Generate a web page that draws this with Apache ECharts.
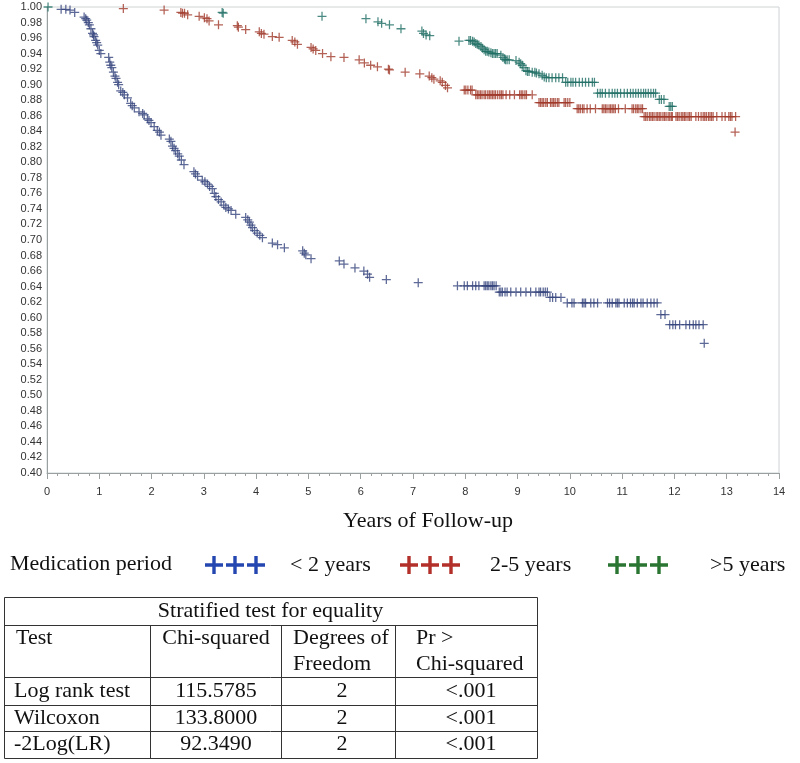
<!DOCTYPE html>
<html><head><meta charset="utf-8">
<script src="https://cdn.jsdelivr.net/npm/echarts@6/dist/echarts.min.js"></script>
<style>html,body{margin:0;padding:0;background:#fff}#c{width:800px;height:763px}</style>
</head><body><div id="c"></div>
<script>
// ---- data (years of follow-up, survival probability) ----
const seriesNames = ['< 2 years', '2-5 years', '>5 years'];
const legendTitle = 'Medication period';
const xAxisTitle = 'Years of Follow-up';

const lt2Years = [
[0.27,0.997],[0.36,0.997],[0.44,0.996],[0.53,0.993],
[0.71,0.987],[0.74,0.985],[0.76,0.983],[0.79,0.980],[0.81,0.977],[0.84,0.972],[0.87,0.966],[0.89,0.964],[0.90,0.962],[0.93,0.957],[0.95,0.954],[0.97,0.951],[1.00,0.944],[1.03,0.940],
[1.18,0.935],[1.20,0.929],[1.22,0.925],[1.24,0.922],[1.27,0.916],[1.30,0.911],[1.32,0.908],[1.35,0.903],[1.37,0.900],[1.41,0.892],[1.45,0.890],[1.48,0.887],[1.54,0.883],[1.60,0.876],[1.63,0.873],[1.67,0.870],[1.76,0.865],[1.83,0.863],[1.86,0.861],[1.92,0.856],[1.95,0.854],[1.99,0.851],[2.05,0.846],[2.11,0.841],[2.15,0.839],[2.18,0.835],
[2.34,0.830],[2.37,0.827],[2.40,0.821],[2.43,0.818],[2.46,0.815],[2.50,0.811],[2.53,0.808],[2.57,0.803],[2.62,0.797],
[2.81,0.788],[2.84,0.785],[2.88,0.782],[2.97,0.777],[3.02,0.775],[3.07,0.772],[3.11,0.769],[3.16,0.766],[3.20,0.760],[3.23,0.756],[3.28,0.752],[3.33,0.749],[3.38,0.745],[3.42,0.742],[3.47,0.740],[3.52,0.738],[3.61,0.733],[3.80,0.729],[3.84,0.726],[3.87,0.723],[3.90,0.719],[3.93,0.716],[3.97,0.712],[4.02,0.709],[4.07,0.706],[4.12,0.703],
[4.31,0.696],[4.41,0.694],[4.54,0.690],[4.89,0.686],[4.92,0.683],[4.95,0.681],[5.05,0.676],[5.59,0.673],[5.68,0.669],[5.89,0.664],[6.06,0.660],[6.13,0.656],[6.17,0.652],[6.49,0.649],[7.10,0.645],
[7.85,0.641],[7.98,0.641],[8.04,0.641],[8.14,0.641],[8.20,0.641],[8.26,0.641],[8.36,0.641],[8.39,0.641],[8.42,0.641],[8.45,0.641],[8.49,0.641],[8.52,0.641],[8.55,0.641],[8.59,0.641],
[8.65,0.633],[8.68,0.633],[8.71,0.633],[8.76,0.633],[8.80,0.633],[8.87,0.633],[8.97,0.633],[9.06,0.633],[9.16,0.633],[9.25,0.633],[9.35,0.633],[9.41,0.633],[9.44,0.633],[9.49,0.633],[9.53,0.633],[9.57,0.633],
[9.62,0.626],[9.67,0.626],[9.73,0.626],[9.83,0.626],
[9.95,0.619],[10.04,0.619],[10.08,0.619],[10.24,0.619],[10.27,0.619],[10.30,0.619],[10.40,0.619],[10.46,0.619],[10.53,0.619],[10.72,0.619],[10.76,0.619],[10.81,0.619],[10.88,0.619],[10.91,0.619],[10.94,0.619],[11.04,0.619],[11.10,0.619],[11.16,0.619],[11.20,0.619],[11.23,0.619],[11.29,0.619],[11.36,0.619],[11.40,0.619],[11.48,0.619],[11.55,0.619],[11.61,0.619],[11.67,0.619],
[11.74,0.604],[11.82,0.604],
[11.91,0.591],[11.97,0.591],[12.02,0.591],[12.10,0.591],[12.22,0.591],[12.29,0.591],[12.36,0.591],[12.41,0.591],[12.47,0.591],[12.55,0.591],
[12.57,0.567]
];

const twoToFiveYears = [
[1.46,0.998],[2.24,0.996],[2.56,0.993],[2.59,0.992],[2.63,0.992],[2.69,0.990],[2.91,0.988],[3.01,0.986],[3.06,0.985],[3.10,0.982],[3.28,0.977],[3.64,0.976],[3.66,0.974],[3.80,0.971],[4.06,0.968],[4.10,0.966],[4.15,0.965],[4.31,0.962],[4.44,0.961],[4.69,0.957],[4.74,0.955],[4.79,0.952],[5.05,0.948],[5.09,0.946],[5.14,0.944],[5.27,0.940],[5.43,0.936],[5.68,0.935],[5.97,0.932],[6.07,0.928],[6.19,0.925],[6.32,0.923],[6.53,0.920],[6.55,0.919],[6.85,0.916],[7.13,0.914],[7.31,0.911],[7.36,0.909],[7.40,0.907],[7.52,0.905],[7.56,0.903],[7.62,0.899],[7.66,0.896],
[7.98,0.893],[8.01,0.893],[8.05,0.893],[8.10,0.893],[8.13,0.893],
[8.20,0.887],[8.23,0.887],[8.26,0.887],[8.29,0.887],[8.32,0.887],[8.36,0.887],[8.39,0.887],[8.43,0.887],[8.46,0.887],[8.49,0.887],[8.52,0.887],[8.55,0.887],[8.58,0.887],[8.62,0.887],[8.66,0.887],[8.69,0.887],[8.72,0.887],[8.78,0.887],[8.85,0.887],[8.94,0.887],[9.04,0.887],[9.07,0.887],[9.10,0.887],[9.14,0.887],[9.17,0.887],[9.28,0.887],
[9.41,0.877],[9.44,0.877],[9.47,0.877],[9.50,0.877],[9.54,0.877],[9.57,0.877],[9.63,0.877],[9.66,0.877],[9.69,0.877],[9.72,0.877],[9.76,0.877],[9.79,0.877],[9.89,0.877],[9.92,0.877],[9.96,0.877],[10.00,0.877],
[10.14,0.869],[10.17,0.869],[10.20,0.869],[10.24,0.869],[10.27,0.869],[10.33,0.869],[10.39,0.869],[10.49,0.869],[10.62,0.869],[10.65,0.869],[10.68,0.869],[10.71,0.869],[10.75,0.869],[10.78,0.869],[10.81,0.869],[10.84,0.869],[10.87,0.869],[10.93,0.869],[11.06,0.869],[11.19,0.869],[11.22,0.869],[11.26,0.869],[11.29,0.869],[11.32,0.869],[11.36,0.869],[11.39,0.869],
[11.42,0.859],[11.45,0.859],[11.48,0.859],[11.52,0.859],[11.55,0.859],[11.58,0.859],[11.61,0.859],[11.65,0.859],[11.68,0.859],[11.71,0.859],[11.74,0.859],[11.78,0.859],[11.81,0.859],[11.84,0.859],[11.88,0.859],[11.91,0.859],[11.94,0.859],[11.96,0.859],[12.03,0.859],[12.06,0.859],[12.09,0.859],[12.13,0.859],[12.16,0.859],[12.19,0.859],[12.22,0.859],[12.26,0.859],[12.29,0.859],[12.32,0.859],[12.41,0.859],[12.46,0.859],[12.51,0.859],[12.55,0.859],[12.58,0.859],[12.61,0.859],[12.65,0.859],[12.68,0.859],[12.71,0.859],[12.74,0.859],[12.81,0.859],[12.91,0.859],[12.97,0.859],[13.04,0.859],[13.07,0.859],[13.10,0.859],[13.17,0.859],
[13.16,0.839]
];

const gt5Years = [
[0.02,1.000],[3.35,0.993],[3.37,0.992],[5.26,0.988],[6.10,0.985],[6.33,0.981],[6.40,0.979],[6.55,0.977],[6.77,0.972],[7.17,0.969],[7.20,0.966],[7.25,0.964],[7.32,0.963],[7.88,0.956],
[8.07,0.957],[8.10,0.957],[8.14,0.956],[8.17,0.955],[8.20,0.953],[8.23,0.952],[8.26,0.951],[8.30,0.949],[8.33,0.947],[8.36,0.945],[8.39,0.943],[8.42,0.943],[8.45,0.942],[8.49,0.941],[8.52,0.940],[8.55,0.940],[8.58,0.940],[8.61,0.940],[8.68,0.938],[8.72,0.935],[8.75,0.933],[8.77,0.932],[8.80,0.932],[8.84,0.932],[8.97,0.931],[9.03,0.929],[9.06,0.927],[9.09,0.925],[9.12,0.922],[9.16,0.918],[9.19,0.917],[9.22,0.917],[9.28,0.916],[9.33,0.916],[9.36,0.915],[9.41,0.914],[9.47,0.912],[9.51,0.910],[9.55,0.909],[9.60,0.909],[9.66,0.909],[9.73,0.909],[9.79,0.909],[9.86,0.909],
[9.92,0.903],[9.96,0.903],[10.02,0.903],[10.06,0.903],[10.11,0.903],[10.18,0.903],[10.24,0.903],[10.30,0.903],[10.36,0.903],[10.43,0.903],[10.47,0.903],
[10.53,0.889],[10.58,0.889],[10.62,0.889],[10.68,0.889],[10.75,0.889],[10.81,0.889],[10.86,0.889],[10.91,0.889],[10.97,0.889],[11.04,0.889],[11.10,0.889],[11.16,0.889],[11.21,0.889],[11.26,0.889],[11.31,0.889],[11.36,0.889],[11.41,0.889],[11.45,0.889],[11.50,0.889],[11.55,0.889],[11.60,0.889],[11.64,0.889],
[11.71,0.881],[11.75,0.881],[11.80,0.881],[11.90,0.872],[11.93,0.872],[11.96,0.872]
];

const tableTitle = 'Stratified test for equality';
const tableHeader = [['Test'], ['Chi-squared'], ['Degrees of', 'Freedom'], ['Pr >', 'Chi-squared']];
const tableRows = [
  ['Log rank test', '115.5785', '2', '<.001'],
  ['Wilcoxon', '133.8000', '2', '<.001'],
  ['-2Log(LR)', '92.3490', '2', '<.001']
];

// ---- styles ----
const markerColors = ['#34447c', '#a03a2b', '#1f6e64'];
const legendColors = ['#2446b0', '#b3302a', '#2a7532'];
const plusPath = 'path://M4.3,0H5.7V4.3H10V5.7H5.7V10H4.3V5.7H0V4.3H4.3Z';
function plus(o) {
  return 'M' + (o + 7.3) + ',0H' + (o + 10.7) + 'V7.3H' + (o + 18) + 'V10.7H' + (o + 10.7) + 'V18H' + (o + 7.3) + 'V10.7H' + o + 'V7.3H' + (o + 7.3) + 'Z';
}
const triplePlus = 'path://' + plus(0) + plus(21) + plus(42);
const serif = '"Liberation Serif", "Times New Roman", serif';
const sans = '"Liberation Sans", Arial, sans-serif';

const allData = [lt2Years, twoToFiveYears, gt5Years];
const series = allData.map((d, i) => ({
  name: seriesNames[i], type: 'scatter', data: d,
  symbol: plusPath, symbolSize: 9,
  itemStyle: { color: markerColors[i] },
  silent: true
}));

const legendLefts = [205, 400, 608];
const legendPads = [20, 25, 37];
const legends = seriesNames.map((n, i) => ({
  left: legendLefts[i], top: 554, padding: 0,
  itemWidth: 60, itemHeight: 18, icon: triplePlus,
  selectedMode: false,
  data: [{ name: n, itemStyle: { color: legendColors[i], opacity: 1 } }],
  textStyle: { fontFamily: serif, fontSize: 22, color: '#111', padding: [0, 0, 0, legendPads[i]] }
}));

// table graphics
const colX = [4, 150, 281, 395, 537];
const rowY = [597, 625, 677, 705, 731, 758];
const tg = [];
const lineStyle = { stroke: '#333', lineWidth: 1 };
tg.push({ type: 'rect', shape: { x: colX[0] + 0.5, y: rowY[0] + 0.5, width: colX[4] - colX[0], height: rowY[5] - rowY[0] }, style: { fill: 'none', stroke: '#333', lineWidth: 1 } });
for (let r = 1; r < 5; r++) tg.push({ type: 'line', shape: { x1: colX[0], y1: rowY[r] + 0.5, x2: colX[4], y2: rowY[r] + 0.5 }, style: lineStyle });
for (let c = 1; c < 4; c++) tg.push({ type: 'line', shape: { x1: colX[c] + 0.5, y1: rowY[1], x2: colX[c] + 0.5, y2: rowY[5] }, style: lineStyle });
const tText = (t, x, y, align) => ({ type: 'text', x: x, y: y, style: { text: t, fill: '#111', font: '22px ' + serif, textAlign: align, textVerticalAlign: 'middle' } });
tg.push(tText(tableTitle, (colX[0] + colX[4]) / 2, 611, 'center'));
const headerX = [[16, 'left'], [216, 'center'], [293, 'left'], [416, 'left']];
tableHeader.forEach((lines, c) => lines.forEach((t, k) => tg.push(tText(t, headerX[c][0], 638 + k * 26, headerX[c][1]))));
const rowCenters = [691, 718, 744];
const cellX = [[14, 'left'], [216, 'center'], [342, 'center'], [471, 'center']];
tableRows.forEach((row, r) => row.forEach((t, c) => tg.push(tText(t, cellX[c][0], rowCenters[r], cellX[c][1]))));
tg.push({ type: 'text', x: 10, y: 564, style: { text: legendTitle, fill: '#111', font: '22px ' + serif, textAlign: 'left', textVerticalAlign: 'middle' } });

const chart = echarts.init(document.getElementById('c'), null, { renderer: 'canvas' });
chart.setOption({
  animation: false,
  backgroundColor: '#fff',
  grid: { left: 47, right: 21, top: 7, bottom: 290, show: true, borderColor: '#cfd4d4', borderWidth: 1 },
  xAxis: {
    type: 'value', min: 0, max: 14, interval: 1,
    name: xAxisTitle, nameLocation: 'middle', nameGap: 37,
    nameTextStyle: { fontFamily: serif, fontSize: 22, color: '#111', padding: [0, 0, 0, 30] },
    axisLine: { show: true, lineStyle: { color: '#9aa0a0' } },
    axisTick: { show: true, length: 6, inside: false, lineStyle: { color: '#9aa0a0' } },
    minorTick: { show: true, splitNumber: 5, length: 3, lineStyle: { color: '#9aa0a0' } },
    splitLine: { show: false },
    axisLabel: { fontFamily: sans, fontSize: 11, color: '#333', margin: 13 }
  },
  yAxis: {
    type: 'value', min: 0.40, max: 1.00, interval: 0.02,
    axisLine: { show: true, lineStyle: { color: '#9aa0a0' } },
    axisTick: { show: false },
    splitLine: { show: false },
    axisLabel: { fontFamily: sans, fontSize: 11, color: '#333', margin: 5, formatter: v => v.toFixed(2) }
  },
  legend: legends,
  series: series,
  graphic: tg
});
</script></body></html>
